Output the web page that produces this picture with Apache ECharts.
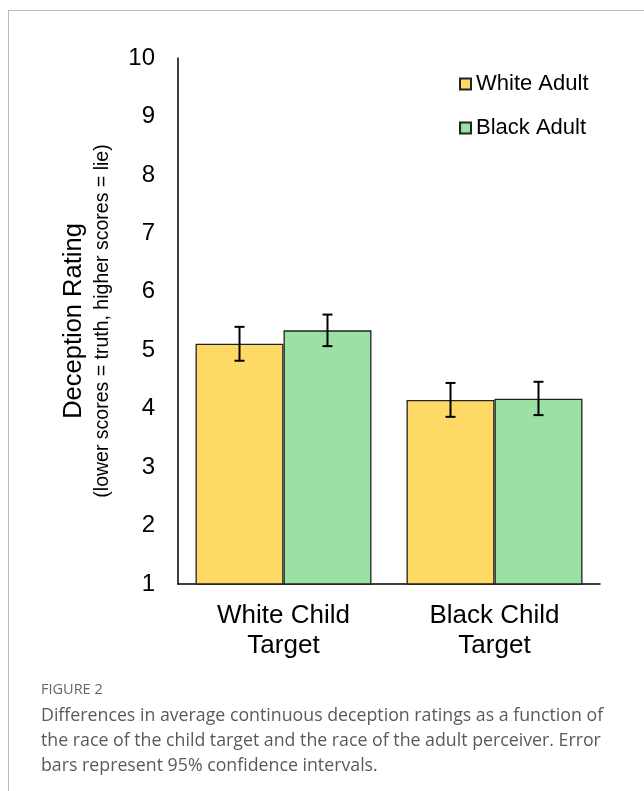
<!DOCTYPE html>
<html>
<head>
<meta charset="utf-8">
<script src="https://cdn.jsdelivr.net/npm/echarts@6/dist/echarts.min.js"></script>
<style>
html,body{margin:0;padding:0;background:#fff;}
#chart{width:644px;height:791px;}
</style>
</head>
<body>
<div id="chart"></div>
<script>
var categories = ['White Child\nTarget', 'Black Child\nTarget'];
var seriesNames = ['White Adult', 'Black Adult'];
var whiteAdult = [5.11, 4.15];
var blackAdult = [5.34, 4.17];
var whiteAdultLow = [4.82, 3.86];
var whiteAdultHigh = [5.40, 4.44];
var blackAdultLow = [5.07, 3.89];
var blackAdultHigh = [5.61, 4.46];
var yTicks = [1, 2, 3, 4, 5, 6, 7, 8, 9, 10];

var BAR_FRAC = 0.417;
var FONT = '"Liberation Sans", Arial, sans-serif';

function errorSeries(low, high, side) {
  return {
    type: 'custom',
    z: 10,
    silent: true,
    data: low.map(function (l, i) { return [i, l, high[i]]; }),
    renderItem: function (params, api) {
      var idx = api.value(0);
      var pLow = api.coord([idx, api.value(1)]);
      var pHigh = api.coord([idx, api.value(2)]);
      var catW = api.size([1, 0])[0];
      var x = pLow[0] + side * catW * BAR_FRAC / 2;
      var cap = 5;
      var st = { stroke: '#000', lineWidth: 2 };
      return {
        type: 'group',
        children: [
          { type: 'line', shape: { x1: x, y1: pLow[1], x2: x, y2: pHigh[1] }, style: st },
          { type: 'line', shape: { x1: x - cap, y1: pLow[1], x2: x + cap, y2: pLow[1] }, style: st },
          { type: 'line', shape: { x1: x - cap, y1: pHigh[1], x2: x + cap, y2: pHigh[1] }, style: st }
        ]
      };
    }
  };
}

var chart = echarts.init(document.getElementById('chart'), null, { renderer: 'canvas' });
chart.setOption({
  animation: false,
  backgroundColor: '#fff',
  title: {
    left: 41,
    top: 681,
    padding: 0,
    itemGap: 5,
    text: 'FIGURE 2',
    textStyle: { fontFamily: '"Open Sans", sans-serif', fontSize: 14.5, fontWeight: 'normal', color: '#666', lineHeight: 17 },
    subtext: 'Differences in average continuous deception ratings as a function of\nthe race of the child target and the race of the adult perceiver. Error\nbars represent 95% confidence intervals.',
    subtextStyle: { fontFamily: '"Open Sans", sans-serif', fontSize: 17.75, color: '#5a5a5a', lineHeight: 25 }
  },
  legend: {
    orient: 'vertical',
    left: 459,
    top: 73,
    padding: 0,
    itemWidth: 11,
    itemHeight: 11,
    itemGap: 22,
    icon: 'rect',
    data: seriesNames,
    textStyle: { fontFamily: FONT, fontSize: 22, color: '#000', lineHeight: 22 }
  },
  grid: { left: 178, right: 44, top: 58, bottom: 207, containLabel: false },
  xAxis: {
    type: 'category',
    data: categories,
    axisLine: { show: true, lineStyle: { color: '#000', width: 1.5 } },
    axisTick: { show: false },
    axisLabel: { fontFamily: FONT, fontSize: 26, color: '#000', lineHeight: 30, margin: 17 }
  },
  yAxis: {
    type: 'value',
    min: 1,
    max: 10,
    interval: 1,
    splitLine: { show: false },
    axisLine: { show: true, lineStyle: { color: '#000', width: 1.5 } },
    axisTick: { show: false },
    axisLabel: {
      fontFamily: FONT, fontSize: 24, color: '#000', margin: 23,
      formatter: function (v) { return yTicks.indexOf(v) >= 0 ? String(v) : ''; }
    },
    name: '{a|Deception Rating}\n{b|(lower scores = truth, higher scores = lie)}',
    nameLocation: 'middle',
    nameRotate: 90,
    nameGap: 59,
    nameTextStyle: {
      rich: {
        a: { fontFamily: FONT, fontSize: 25.5, color: '#000', lineHeight: 26 },
        b: { fontFamily: FONT, fontSize: 19.5, color: '#000', lineHeight: 32 }
      }
    }
  },
  series: [
    {
      name: seriesNames[0], type: 'bar', data: whiteAdult,
      barWidth: (BAR_FRAC * 100) + '%', barGap: '0%',
      itemStyle: { color: '#FFD966', borderColor: '#222', borderWidth: 1.3 }
    },
    {
      name: seriesNames[1], type: 'bar', data: blackAdult,
      barWidth: (BAR_FRAC * 100) + '%', barGap: '0%',
      itemStyle: { color: '#9BE1A4', borderColor: '#222', borderWidth: 1.3 }
    },
    errorSeries(whiteAdultLow, whiteAdultHigh, -1),
    errorSeries(blackAdultLow, blackAdultHigh, 1)
  ],
  graphic: [
    { type: 'line', shape: { x1: 8, y1: 10.5, x2: 644, y2: 10.5 }, style: { stroke: '#bbb', lineWidth: 1 } },
    { type: 'line', shape: { x1: 8.5, y1: 10, x2: 8.5, y2: 791 }, style: { stroke: '#bbb', lineWidth: 1 } }
  ]
});
</script>
</body>
</html>
